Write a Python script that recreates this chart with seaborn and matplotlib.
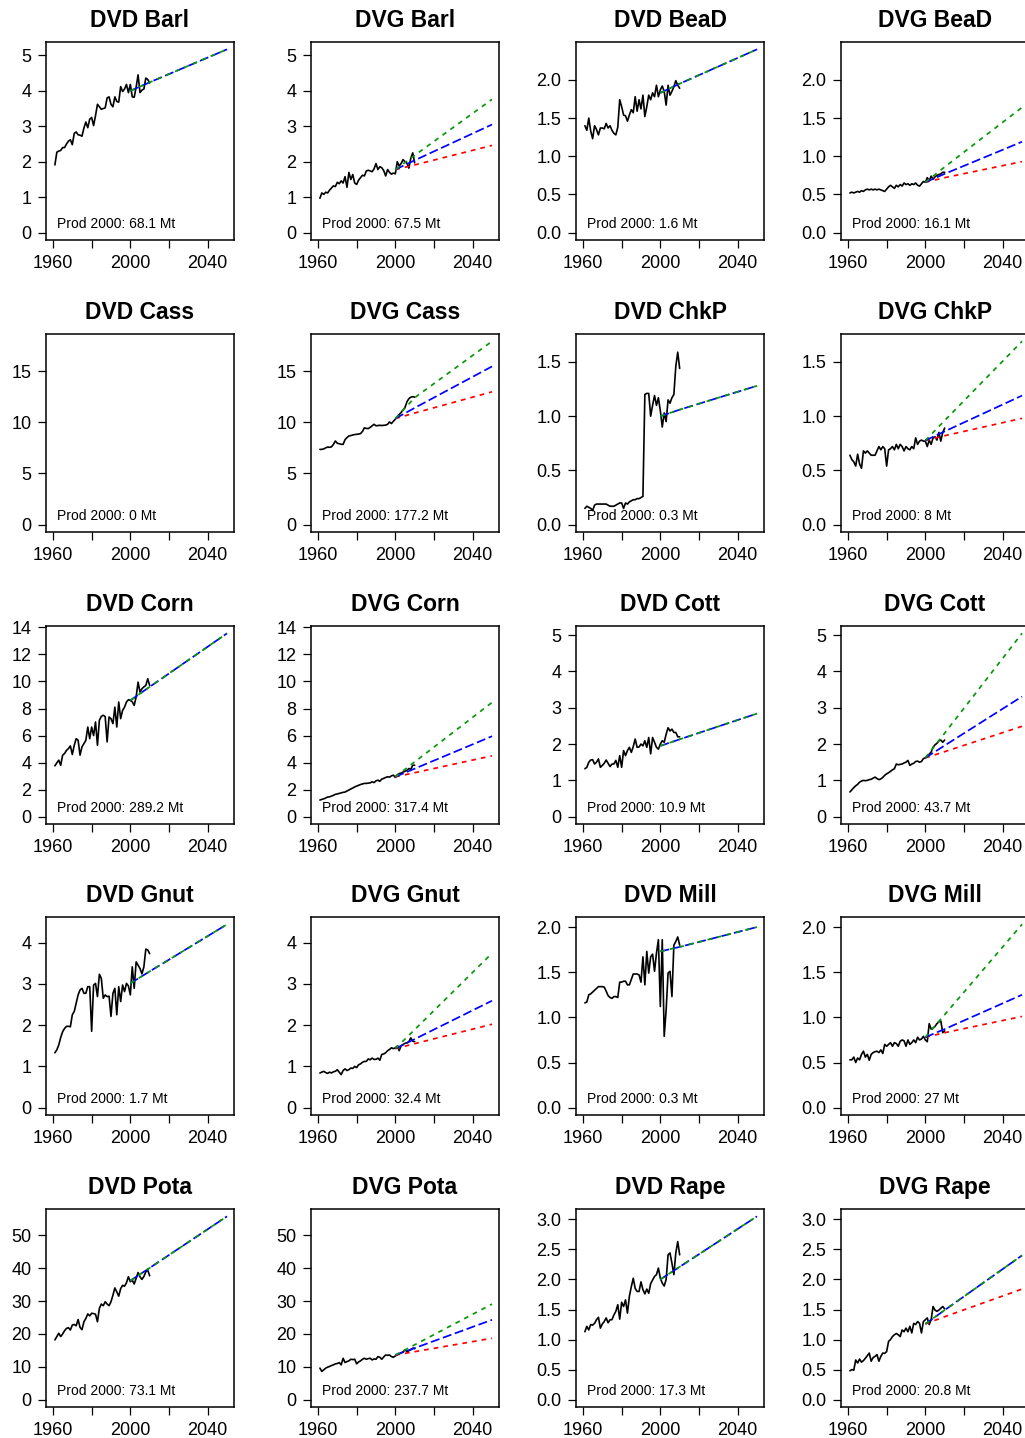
import matplotlib
matplotlib.use("Agg")
import matplotlib.pyplot as plt
import pandas as pd
import seaborn as sns

# ---------------- data ----------------
YEARS = list(range(1961, 2011))
PROJ_YEARS = [2000, 2010, 2050]
CROPS = ["Barl", "BeaD", "Cass", "ChkP", "Corn", "Cott", "Gnut", "Mill", "Pota", "Rape"]

DVD_BARL = [1.91, 2.27, 2.30, 2.32, 2.40, 2.40, 2.50, 2.58, 2.62, 2.48, 2.80, 2.84, 2.76, 2.75, 2.72,
            2.95, 3.12, 2.96, 3.20, 3.25, 3.02, 3.30, 3.62, 3.55, 3.48, 3.50, 3.52, 3.80, 3.83, 3.62,
            3.55, 3.83, 3.70, 3.68, 4.12, 3.98, 4.05, 4.18, 3.95, 4.18, 3.83, 3.82, 4.10, 4.45, 3.95,
            4.02, 4.05, 4.36, 4.32, 4.22]
DVG_BARL = [0.97, 1.12, 1.08, 1.14, 1.12, 1.20, 1.26, 1.32, 1.30, 1.42, 1.38, 1.46, 1.40, 1.58, 1.28,
            1.70, 1.50, 1.64, 1.40, 1.36, 1.48, 1.55, 1.62, 1.60, 1.74, 1.76, 1.74, 1.72, 1.80, 1.95,
            1.78, 1.86, 1.83, 1.75, 1.60, 1.78, 1.70, 1.65, 1.68, 1.66, 2.00, 1.88, 1.95, 2.06, 2.00,
            1.96, 1.82, 2.10, 2.25, 1.97]
DVD_BEAD = [1.40, 1.34, 1.50, 1.33, 1.23, 1.40, 1.35, 1.28, 1.37, 1.37, 1.36, 1.43, 1.37, 1.40, 1.34,
            1.30, 1.28, 1.38, 1.74, 1.65, 1.54, 1.53, 1.46, 1.54, 1.61, 1.57, 1.78, 1.59, 1.74, 1.62,
            1.80, 1.52, 1.65, 1.80, 1.74, 1.83, 1.78, 1.93, 1.78, 1.87, 1.92, 1.85, 1.67, 1.93, 1.80,
            1.85, 1.91, 1.99, 1.93, 1.89]
DVG_BEAD = [0.52, 0.53, 0.52, 0.53, 0.54, 0.53, 0.55, 0.54, 0.56, 0.57, 0.56, 0.57, 0.56, 0.57, 0.56,
            0.57, 0.56, 0.55, 0.54, 0.57, 0.60, 0.62, 0.60, 0.58, 0.62, 0.60, 0.63, 0.61, 0.65, 0.63,
            0.64, 0.62, 0.64, 0.63, 0.65, 0.62, 0.61, 0.64, 0.67, 0.66, 0.72, 0.68, 0.74, 0.70, 0.73,
            0.75, 0.76, 0.77, 0.79, 0.79]
DVD_CASS = []
DVG_CASS = [7.35, 7.35, 7.40, 7.50, 7.58, 7.55, 7.60, 7.84, 8.17, 7.95, 7.90, 7.85, 7.84, 8.30, 8.50,
            8.66, 8.70, 8.76, 8.80, 8.82, 8.85, 8.89, 9.10, 9.45, 9.40, 9.38, 9.50, 9.65, 9.80, 9.65,
            9.68, 9.70, 9.68, 9.70, 9.72, 9.80, 10.03, 9.87, 10.10, 10.30, 10.55, 10.75, 10.95, 11.20,
            11.44, 12.00, 12.30, 12.45, 12.50, 12.45]
DVD_CHKP = [0.15, 0.17, 0.16, 0.15, 0.13, 0.18, 0.19, 0.19, 0.19, 0.19, 0.19, 0.19, 0.18, 0.17, 0.17,
            0.17, 0.18, 0.19, 0.20, 0.20, 0.15, 0.20, 0.19, 0.21, 0.22, 0.23, 0.23, 0.24, 0.24, 0.25,
            0.26, 1.20, 1.21, 1.21, 1.00, 1.10, 1.19, 1.10, 1.17, 1.05, 0.90, 1.03, 0.95, 1.15, 1.12,
            1.17, 1.20, 1.46, 1.59, 1.44]
DVG_CHKP = [0.64, 0.60, 0.58, 0.54, 0.65, 0.56, 0.52, 0.68, 0.66, 0.68, 0.66, 0.64, 0.64, 0.64, 0.68,
            0.72, 0.69, 0.72, 0.70, 0.54, 0.69, 0.70, 0.72, 0.69, 0.74, 0.70, 0.74, 0.72, 0.68, 0.72,
            0.70, 0.69, 0.72, 0.70, 0.80, 0.74, 0.77, 0.78, 0.77, 0.77, 0.72, 0.78, 0.74, 0.80, 0.81,
            0.78, 0.85, 0.77, 0.85, 0.89]
DVD_CORN = [3.76, 3.98, 4.18, 3.80, 4.55, 4.67, 4.90, 5.04, 5.23, 4.60, 5.28, 5.77, 5.65, 4.55, 5.16,
            5.40, 5.65, 6.63, 5.77, 6.63, 6.00, 7.00, 5.28, 7.13, 7.42, 7.50, 7.40, 5.53, 7.37, 7.25,
            6.88, 8.10, 6.63, 8.48, 7.25, 7.86, 8.10, 8.48, 8.65, 8.60, 8.50, 8.23, 8.85, 9.95, 9.21,
            9.46, 9.60, 9.70, 10.20, 9.70]
DVG_CORN = [1.23, 1.28, 1.32, 1.38, 1.45, 1.47, 1.52, 1.58, 1.65, 1.68, 1.72, 1.76, 1.80, 1.82, 1.90,
            1.97, 2.05, 2.12, 2.20, 2.26, 2.32, 2.38, 2.42, 2.46, 2.46, 2.48, 2.50, 2.58, 2.52, 2.65,
            2.70, 2.62, 2.78, 2.83, 2.90, 2.95, 2.92, 3.02, 3.07, 2.90, 3.10, 3.19, 3.22, 3.30, 3.36,
            3.42, 3.56, 3.50, 3.81, 3.80]
DVD_COTT = [1.32, 1.36, 1.50, 1.56, 1.57, 1.45, 1.50, 1.59, 1.36, 1.41, 1.47, 1.56, 1.47, 1.38, 1.45,
            1.45, 1.55, 1.36, 1.68, 1.36, 1.82, 1.68, 1.82, 1.91, 1.77, 1.93, 2.14, 1.91, 1.92, 2.00,
            1.95, 2.09, 1.91, 2.18, 1.73, 2.18, 2.05, 1.91, 1.86, 2.00, 2.09, 2.05, 2.27, 2.45, 2.36,
            2.41, 2.32, 2.32, 2.20, 2.20]
DVG_COTT = [0.68, 0.74, 0.80, 0.85, 0.89, 0.95, 0.98, 1.00, 0.99, 1.00, 1.02, 1.03, 1.06, 1.09, 1.05,
            1.02, 1.04, 1.08, 1.14, 1.18, 1.21, 1.25, 1.29, 1.32, 1.45, 1.43, 1.44, 1.45, 1.48, 1.50,
            1.55, 1.41, 1.45, 1.47, 1.52, 1.53, 1.50, 1.52, 1.60, 1.62, 1.68, 1.72, 1.78, 1.91, 1.98,
            2.02, 2.09, 2.11, 2.05, 2.11]
DVD_GNUT = [1.33, 1.40, 1.52, 1.70, 1.84, 1.92, 1.97, 1.97, 1.96, 2.25, 2.33, 2.53, 2.73, 2.85, 2.89,
            2.77, 2.77, 2.93, 2.93, 1.85, 2.97, 3.01, 2.69, 3.23, 3.13, 2.65, 2.73, 2.69, 2.70, 2.21,
            2.77, 2.89, 2.25, 2.93, 2.57, 2.97, 2.81, 3.01, 2.95, 2.73, 3.41, 2.89, 3.53, 3.45, 3.37,
            3.24, 3.41, 3.84, 3.82, 3.73]
DVG_GNUT = [0.84, 0.86, 0.88, 0.85, 0.83, 0.86, 0.84, 0.87, 0.88, 0.92, 0.86, 0.80, 0.90, 0.94, 0.90,
            0.92, 0.96, 0.95, 1.00, 0.97, 1.04, 1.06, 1.10, 1.12, 1.12, 1.18, 1.16, 1.20, 1.17, 1.17,
            1.20, 1.15, 1.29, 1.30, 1.33, 1.38, 1.41, 1.45, 1.43, 1.45, 1.49, 1.38, 1.50, 1.53, 1.56,
            1.57, 1.60, 1.69, 1.61, 1.60]
DVD_MILL = [1.16, 1.17, 1.25, 1.26, 1.28, 1.30, 1.32, 1.34, 1.34, 1.34, 1.335, 1.29, 1.24, 1.22, 1.21,
            1.23, 1.23, 1.22, 1.39, 1.39, 1.40, 1.40, 1.36, 1.36, 1.42, 1.48, 1.48, 1.48, 1.47, 1.39,
            1.67, 1.36, 1.73, 1.49, 1.67, 1.70, 1.51, 1.71, 1.86, 1.12, 1.86, 0.79, 1.08, 1.49, 1.51,
            1.23, 1.80, 1.84, 1.89, 1.80]
DVG_MILL = [0.53, 0.53, 0.56, 0.50, 0.55, 0.53, 0.59, 0.625, 0.56, 0.59, 0.525, 0.59, 0.61, 0.62, 0.625,
            0.61, 0.64, 0.60, 0.70, 0.68, 0.70, 0.72, 0.68, 0.72, 0.71, 0.68, 0.735, 0.75, 0.74, 0.68,
            0.75, 0.70, 0.72, 0.75, 0.72, 0.78, 0.75, 0.76, 0.79, 0.75, 0.73, 0.93, 0.87, 0.88, 0.90,
            0.93, 0.95, 0.96, 0.83, 0.85]
DVD_POTA = [18.2, 19.2, 20.2, 19.2, 20.0, 21.0, 21.7, 21.9, 21.2, 22.7, 22.9, 22.5, 24.4, 22.0, 21.3,
            23.7, 24.7, 26.1, 25.5, 26.3, 26.2, 26.0, 23.7, 27.8, 29.1, 28.6, 29.8, 29.1, 28.6, 29.8,
            31.8, 34.0, 32.8, 31.5, 33.8, 34.8, 34.5, 35.6, 37.4, 35.9, 36.4, 35.2, 36.9, 38.7, 37.4,
            36.6, 37.5, 38.9, 39.4, 37.7]
DVG_POTA = [9.6, 8.6, 9.1, 9.6, 9.9, 10.1, 10.4, 10.6, 10.9, 11.0, 11.3, 10.6, 12.6, 11.3, 11.6,
            11.8, 12.3, 12.2, 12.3, 10.9, 11.5, 11.8, 12.3, 12.6, 12.3, 12.5, 12.6, 12.1, 12.4, 12.3,
            13.1, 12.9, 12.3, 13.0, 13.6, 13.5, 13.6, 13.1, 12.9, 13.3, 13.7, 13.9, 14.3, 14.5, 15.2,
            14.6, 14.9, 15.2, 15.7, 15.5]
DVD_RAPE = [1.13, 1.22, 1.16, 1.25, 1.24, 1.27, 1.33, 1.37, 1.19, 1.26, 1.30, 1.36, 1.28, 1.33, 1.33,
            1.41, 1.47, 1.58, 1.34, 1.62, 1.55, 1.66, 1.44, 1.72, 1.88, 2.02, 1.85, 1.80, 1.80, 1.96,
            1.83, 1.76, 1.84, 1.77, 1.93, 1.99, 2.05, 2.08, 2.19, 2.02, 1.94, 1.89, 2.00, 2.41, 2.44,
            2.27, 2.08, 2.44, 2.63, 2.41]
DVG_RAPE = [0.48, 0.50, 0.49, 0.66, 0.61, 0.675, 0.625, 0.65, 0.69, 0.73, 0.775, 0.64, 0.70, 0.72, 0.75,
            0.64, 0.72, 0.775, 0.77, 0.80, 0.97, 1.00, 1.05, 1.08, 1.10, 1.08, 1.05, 1.16, 1.13, 1.19,
            1.13, 1.22, 1.11, 1.27, 1.25, 1.30, 1.27, 1.11, 1.30, 1.33, 1.36, 1.25, 1.33, 1.55, 1.49,
            1.47, 1.49, 1.52, 1.55, 1.51]

# projections at PROJ_YEARS (DVD: single trend shared by green/blue)
DVD_PROJ = [[4.00, 4.24, 5.17], [1.83, 1.95, 2.40], [], [1.00, 1.06, 1.28], [8.60, 9.60, 13.56],
            [1.95, 2.13, 2.84], [3.01, 3.30, 4.44], [1.73, 1.78, 2.00], [36.2, 40.1, 55.8],
            [2.00, 2.21, 3.05]]
DVG_GREEN = [[1.78, 2.18, 3.76], [0.66, 0.86, 1.64], [10.36, 12.4, 17.9], [0.776, 0.96, 1.69],
             [2.95, 4.05, 8.45], [1.62, 2.30, 5.05], [1.43, 1.89, 3.74], [0.78, 1.03, 2.03],
             [13.6, 16.7, 29.1], [1.26, 1.49, 2.40]]
DVG_BLUE = [[1.78, 2.04, 3.05], [0.66, 0.77, 1.19], [10.36, 11.4, 15.45], [0.776, 0.86, 1.19],
            [2.95, 3.55, 5.95], [1.62, 1.96, 3.31], [1.43, 1.66, 2.59], [0.78, 0.87, 1.25],
            [13.6, 15.7, 24.3], [1.26, 1.49, 2.40]]
DVG_RED = [[1.78, 1.91, 2.46], [0.66, 0.72, 0.93], [10.36, 10.9, 12.97], [0.776, 0.82, 0.98],
           [2.95, 3.25, 4.50], [1.62, 1.79, 2.49], [1.43, 1.55, 2.02], [0.78, 0.83, 1.01],
           [13.6, 14.6, 18.7], [1.26, 1.38, 1.84]]

PROD_DVD = ["68.1", "1.6", "0", "0.3", "289.2", "10.9", "1.7", "0.3", "73.1", "17.3"]
PROD_DVG = ["67.5", "16.1", "177.2", "8", "317.4", "43.7", "32.4", "27", "237.7", "20.8"]

Y_STEP = [1, 0.5, 5, 0.5, 2, 1, 1, 0.5, 10, 0.5]
X_TICKS = [1960, 1980, 2000, 2020, 2040]
X_TICK_LABELS = ["1960", "", "2000", "", "2040"]

DVD_HIST = [DVD_BARL, DVD_BEAD, DVD_CASS, DVD_CHKP, DVD_CORN, DVD_COTT, DVD_GNUT, DVD_MILL, DVD_POTA, DVD_RAPE]
DVG_HIST = [DVG_BARL, DVG_BEAD, DVG_CASS, DVG_CHKP, DVG_CORN, DVG_COTT, DVG_GNUT, DVG_MILL, DVG_POTA, DVG_RAPE]

# ---------------- style ----------------
sns.set_theme(style="white")
plt.rcParams["font.family"] = ["Liberation Sans", "DejaVu Sans"]
plt.rcParams["lines.scale_dashes"] = False
plt.rcParams["axes.linewidth"] = 1.1
plt.rcParams["axes.edgecolor"] = "black"

W, H = 1025, 1438
fig = plt.figure(figsize=(W / 100, H / 100), dpi=100)
COL_LEFT = [46, 311, 576, 841]
ROW_TOP = [42, 334, 626, 917, 1209]
AX_W, AX_H = 188, 198

LW = 1.25
STYLE_GREEN = dict(color="#0a960a", linestyle=(0, (3.4, 3.6)))
STYLE_BLUE = dict(color="#0000ff", linestyle=(0, (6.5, 2.6)))
STYLE_RED = dict(color="#ff0000", linestyle=(0, (3.4, 3.6)))


def draw_line(ax, xs, ys, lw=LW, **kw):
    if len(ys) == 0:
        return
    df = pd.DataFrame({"year": xs, "value": ys})
    sns.lineplot(data=df, x="year", y="value", ax=ax, errorbar=None, sort=True,
                 linewidth=lw, **kw)


def style_axes(ax, title, prod, ymax, step):
    lo, hi = -0.04 * ymax, 1.04 * ymax
    ax.set_xlim(1956.4, 2053.6)
    ax.set_ylim(lo, hi)
    ax.set_xticks(X_TICKS)
    ax.set_xticklabels(X_TICK_LABELS)
    n = int(hi // step + 1e-9)
    ticks = [i * step for i in range(n + 1)]
    ax.set_yticks(ticks)
    if step < 1:
        ax.set_yticklabels([f"{t:.1f}" for t in ticks])
    else:
        ax.set_yticklabels([f"{int(round(t))}" for t in ticks])
    ax.set_xlabel("")
    ax.set_ylabel("")
    ax.tick_params(axis="both", direction="out", length=5.5, width=0.9, color="black",
                   labelsize=13, labelcolor="black", pad=5, left=True, bottom=True)
    for s in ax.spines.values():
        s.set_visible(True)
        s.set_color("black")
        s.set_linewidth(1.1)
    ax.set_title(title, fontsize=16.5, fontweight="bold", pad=10.5, color="black")
    ax.text(0.058, 0.081, f"Prod 2000: {prod} Mt", transform=ax.transAxes,
            fontsize=10, ha="left", va="center", color="black")
    ax.set_facecolor("white")
    ax.grid(False)


for k, crop in enumerate(CROPS):
    row = k // 2
    c0 = 2 * (k % 2)
    allvals = list(DVD_HIST[k]) + list(DVG_HIST[k]) + list(DVD_PROJ[k]) + \
        list(DVG_GREEN[k]) + list(DVG_BLUE[k]) + list(DVG_RED[k])
    ymax = max(allvals)
    for j, kind in enumerate(["DVD", "DVG"]):
        left = COL_LEFT[c0 + j]
        top = ROW_TOP[row]
        ax = fig.add_axes([left / W, 1 - (top + AX_H) / H, AX_W / W, AX_H / H])
        if kind == "DVD":
            draw_line(ax, YEARS[:len(DVD_HIST[k])], DVD_HIST[k], lw=1.2, color="black")
            draw_line(ax, PROJ_YEARS[:len(DVD_PROJ[k])], DVD_PROJ[k], **STYLE_BLUE)
            draw_line(ax, PROJ_YEARS[:len(DVD_PROJ[k])], DVD_PROJ[k], **STYLE_GREEN)
            prod = PROD_DVD[k]
        else:
            draw_line(ax, YEARS, DVG_HIST[k], lw=1.2, color="black")
            draw_line(ax, PROJ_YEARS, DVG_RED[k], **STYLE_RED)
            draw_line(ax, PROJ_YEARS, DVG_BLUE[k], **STYLE_BLUE)
            draw_line(ax, PROJ_YEARS, DVG_GREEN[k], **STYLE_GREEN)
            prod = PROD_DVG[k]
        style_axes(ax, f"{kind} {crop}", prod, ymax, Y_STEP[k])

fig.savefig("out.png", dpi=100, facecolor="white")
